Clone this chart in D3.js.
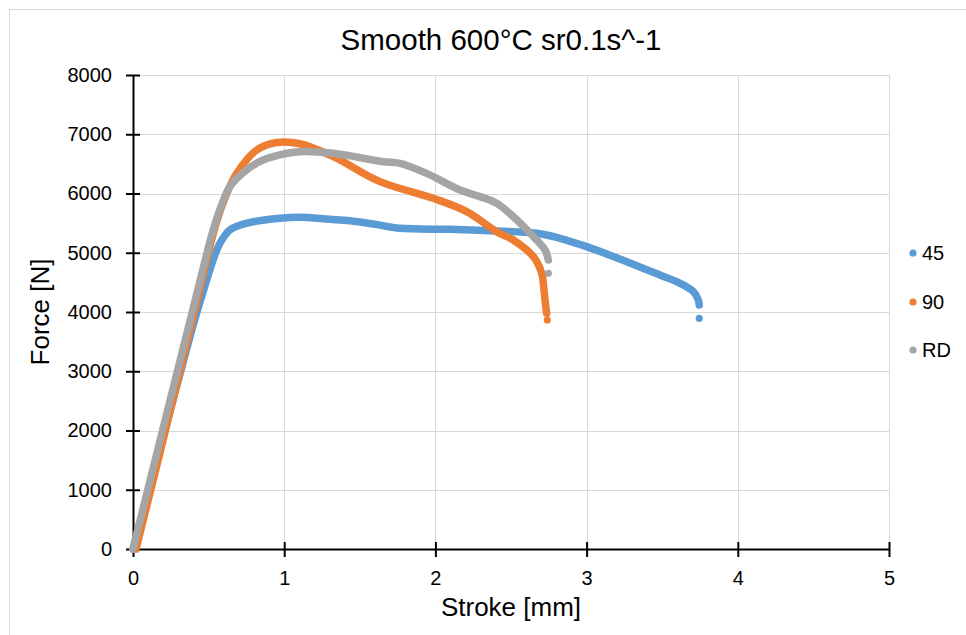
<!DOCTYPE html>
<html>
<head>
<meta charset="utf-8">
<script src="https://cdn.jsdelivr.net/npm/d3@7"></script>
<style>
  html, body { margin: 0; padding: 0; background: #fff; }
  svg { display: block; font-family: "Liberation Sans", Arial, sans-serif; }
</style>
</head>
<body>
<svg id="chart" width="966" height="635"></svg>
<script>
// ---- data (Stroke [mm], Force [N]) ----
const seriesNames = ["45", "90", "RD"];
const xTicks = [0, 1, 2, 3, 4, 5];
const yTicks = [0, 1000, 2000, 3000, 4000, 5000, 6000, 7000, 8000];

const curve45 = [
  [0, 0], [0.1, 950], [0.2, 1900], [0.3, 2850], [0.4, 3800], [0.48, 4480],
  [0.53, 4880], [0.575, 5160], [0.64, 5384], [0.75, 5497], [0.97, 5581],
  [1.105, 5598], [1.3, 5565], [1.435, 5540], [1.6, 5480], [1.766, 5412],
  [2.097, 5395], [2.36, 5370], [2.67, 5329], [2.824, 5244], [3.0, 5103],
  [3.265, 4849], [3.485, 4624], [3.618, 4484], [3.706, 4343], [3.739, 4203],
  [3.745, 4118]
];
const tail45 = [[3.745, 3894]];

const curve90 = [
  [0.02, 0], [0.2, 1850], [0.4, 3950], [0.55, 5500], [0.62, 6000],
  [0.686, 6340], [0.818, 6734], [0.95, 6860], [1.104, 6840], [1.325, 6622],
  [1.634, 6200], [1.986, 5919], [2.207, 5694], [2.405, 5356], [2.515, 5215],
  [2.648, 4934], [2.703, 4653], [2.718, 4371], [2.73, 4090], [2.736, 3978]
];
const tail90 = [[2.74, 3865]];

const curveRD = [
  [0, 0], [0.2, 2050], [0.39, 3980], [0.47, 4800], [0.53, 5384], [0.6, 5900],
  [0.64, 6115], [0.75, 6397], [0.86, 6565], [1.02, 6679], [1.104, 6706],
  [1.325, 6678], [1.655, 6537], [1.766, 6509], [1.942, 6340], [2.163, 6059],
  [2.295, 5947], [2.405, 5834], [2.515, 5609], [2.648, 5272], [2.725, 5047],
  [2.747, 4878]
];
const tailRD = [[2.747, 4653]];

const colors = ["#5B9BD5", "#ED7D31", "#A5A5A5"];
const curves = [curve45, curve90, curveRD];
const tails = [tail45, tail90, tailRD];

// ---- layout ----
const svg = d3.select("#chart");
const plotL = 133, plotR = 889, plotT = 75, plotB = 549;

// outer chart border
svg.append("rect").attr("x", 9.5).attr("y", 9.5).attr("width", 980).attr("height", 660)
  .attr("fill", "#fff").attr("stroke", "#d9d9d9").attr("stroke-width", 1);

const x = d3.scaleLinear().domain([0, 5]).range([plotL, plotR]);
const y = d3.scaleLinear().domain([0, 8000]).range([plotB, plotT]);

// gridlines
const grid = svg.append("g");
grid.selectAll("line.h").data(yTicks.slice(1)).join("line")
  .attr("x1", plotL).attr("x2", plotR)
  .attr("y1", d => Math.round(y(d)) + 0.5).attr("y2", d => Math.round(y(d)) + 0.5)
  .attr("stroke", "#d9d9d9").attr("stroke-width", 1);
grid.selectAll("line.v").data(xTicks.slice(1)).join("line")
  .attr("y1", plotT).attr("y2", plotB)
  .attr("x1", d => Math.round(x(d)) + 0.5).attr("x2", d => Math.round(x(d)) + 0.5)
  .attr("stroke", "#d9d9d9").attr("stroke-width", 1);

// axes
const fmt = d3.format("d");
const xAxis = d3.axisBottom(x).tickValues(xTicks).tickFormat(fmt).tickSizeInner(8).tickSizeOuter(0);
const yAxis = d3.axisLeft(y).tickValues(yTicks).tickFormat(fmt).tickSizeInner(7).tickSizeOuter(0).tickPadding(14);

const gx = svg.append("g").attr("transform", `translate(0,${plotB})`).call(xAxis);
const gy = svg.append("g").attr("transform", `translate(${plotL},0)`).call(yAxis);

[gx, gy].forEach(g => {
  g.select(".domain").attr("stroke", "#000").attr("stroke-width", 2);
  g.selectAll(".tick line").attr("stroke", "#000").attr("stroke-width", 2);
  g.selectAll(".tick text").attr("font-size", 20).attr("fill", "#000")
    .attr("font-family", "'Liberation Sans', Arial, sans-serif");
});
// crossing ticks
gx.selectAll(".tick line").attr("y1", -7).attr("y2", 8);
gy.selectAll(".tick line").attr("x1", 7).attr("x2", -7);
gx.selectAll(".tick text").attr("dy", null).attr("y", 36);

// series
const line = d3.line().x(d => x(d[0])).y(d => y(d[1])).curve(d3.curveCatmullRom.alpha(0.5));
curves.forEach((c, i) => {
  svg.append("path").datum(c).attr("d", line)
    .attr("fill", "none").attr("stroke", colors[i]).attr("stroke-width", 7.5)
    .attr("stroke-linecap", "round").attr("stroke-linejoin", "round");
  svg.selectAll(null).data(tails[i]).join("circle")
    .attr("cx", d => x(d[0])).attr("cy", d => y(d[1])).attr("r", 3.6)
    .attr("fill", colors[i]);
});

// title
svg.append("text").attr("x", 501).attr("y", 50).attr("text-anchor", "middle")
  .attr("font-size", 29.5).attr("fill", "#000").text("Smooth 600°C sr0.1s^-1");

// axis titles
svg.append("text").attr("x", 511).attr("y", 616).attr("text-anchor", "middle")
  .attr("font-size", 26).attr("fill", "#000").text("Stroke [mm]");
svg.append("text").attr("transform", "translate(49,312) rotate(-90)")
  .attr("text-anchor", "middle").attr("font-size", 26).attr("fill", "#000").text("Force [N]");

// legend
const legY = [253, 302, 350];
seriesNames.forEach((n, i) => {
  svg.append("circle").attr("cx", 913).attr("cy", legY[i]).attr("r", 3.6).attr("fill", colors[i]);
  svg.append("text").attr("x", 922).attr("y", legY[i]).attr("dy", "0.35em")
    .attr("font-size", 20).attr("fill", "#000").text(n);
});
</script>
</body>
</html>
